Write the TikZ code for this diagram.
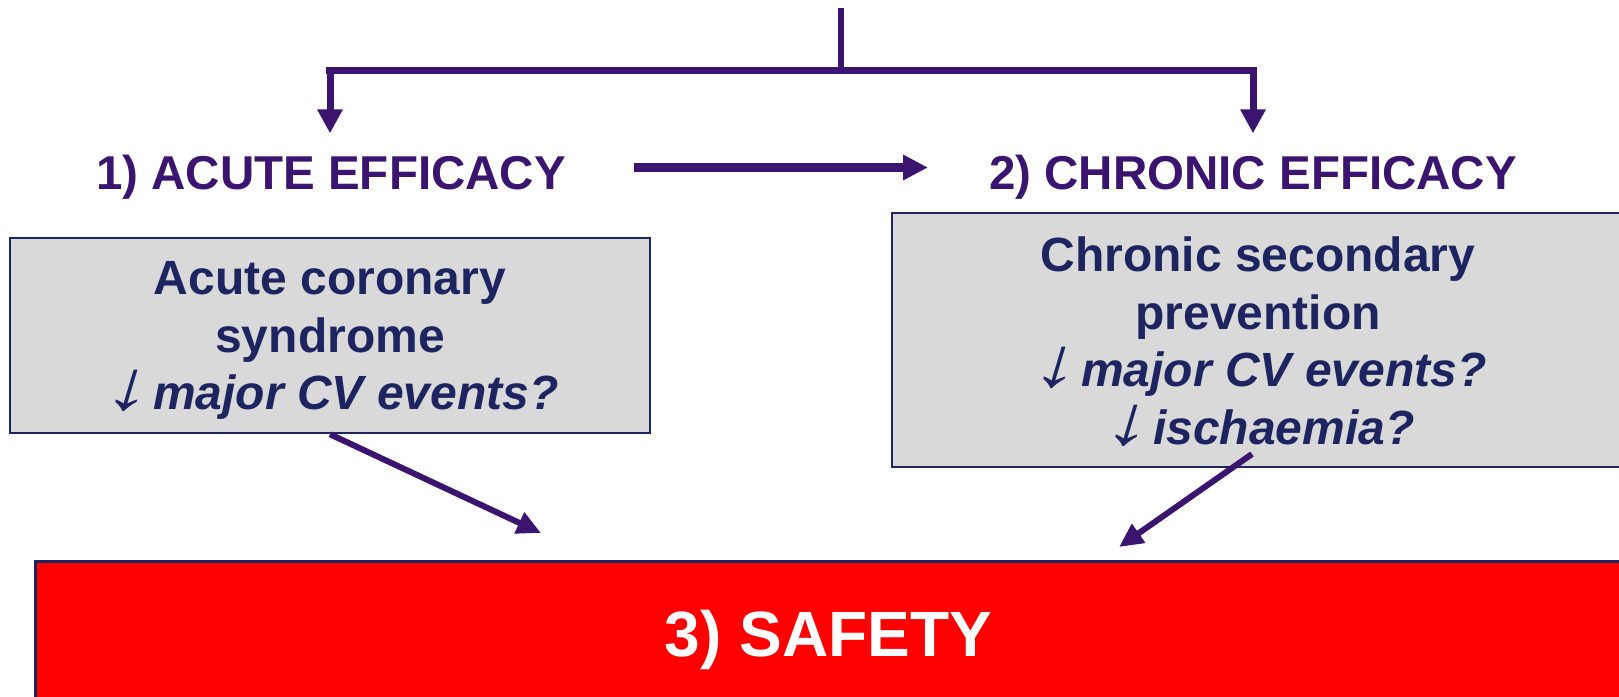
\documentclass[tikz,border=0pt]{standalone}
\usepackage{fontspec}
\setmainfont{Liberation Sans}
\newfontfamily\arrowfont[FakeSlant=0.3,FakeStretch=1.3]{Liberation Sans}
\usetikzlibrary{arrows.meta,calc}

\definecolor{flowpurple}{RGB}{58,20,110}
\definecolor{boxnavy}{RGB}{30,36,96}
\definecolor{boxgray}{RGB}{217,217,217}
\definecolor{alarmred}{RGB}{255,0,0}

% thin, slanted "decrease" arrow set in front of an italic phrase
\newcommand\slantdown{{\arrowfont\mdseries\upshape\fontsize{70}{57.5}\selectfont ↓}\hspace{6pt}}

\begin{document}
\begin{tikzpicture}[x=1pt,y=-1pt,
  heading/.style={inner sep=0pt,anchor=base,text=flowpurple,
    font=\fontsize{47.5}{57}\selectfont\bfseries},
  infobox/.style={draw=boxnavy,line width=2.5pt,fill=boxgray,inner sep=0pt},
  infotext/.style={inner sep=0pt,anchor=north,align=center,text=boxnavy,
    font=\fontsize{48}{57.5}\selectfont\bfseries},
  safetybox/.style={draw=boxnavy,line width=3pt,fill=alarmred,text=white,
    text depth=0pt,font=\fontsize{64}{70}\selectfont\bfseries},
  flow/.style={draw=flowpurple,line width=6pt},
  flowarrow/.style={flow,line width=7pt,-{Triangle[length=24pt,width=24pt]}}
]
\useasboundingbox (0,0) rectangle (1619,696);

% outcome boxes
\node[infobox,minimum width=640pt,minimum height=195pt] (acs) at (330,335.5) {};
\node[infotext] (acstext) at ($(acs.north)+(0,25)$)
  {Acute coronary\\syndrome\\\slantdown\textit{major CV events?}};
\node[infobox,minimum width=732pt,minimum height=254pt] (csp) at (1258,340) {};
\node[infotext] (csptext) at ($(csp.north)+(0,25)$)
  {Chronic secondary\\prevention\\\slantdown\textit{major CV events?}\\\slantdown\textit{ischaemia?}};
\node[safetybox,minimum width=1587pt,minimum height=144pt] (safety) at (828.5,633) {3) SAFETY};

% headings
\node[heading] (h1) at (331,189) {1) ACUTE EFFICACY};
\node[heading] (h2) at (1253,189) {2) CHRONIC EFFICACY};

% branching connector at the top
\coordinate (top) at (841,8);
\coordinate (jn) at (841,70.5);
\coordinate (barL) at (326,70.5);
\coordinate (barR) at (1257,70.5);
\coordinate (dropL) at (330,70.5);
\coordinate (dropR) at (1253,70.5);
\draw[flow] (top) -- (jn);
\draw[flow,line width=7pt] (barL) -- (barR);
\draw[flowarrow,shorten >=21pt] (dropL) -- (dropL |- h1.north);
\draw[flowarrow,shorten >=21pt] (dropR) -- (dropR |- h2.north);

% acute -> chronic
\coordinate (hs) at (634,167.5);
\coordinate (he) at (928,167.5);
\draw[flow,line width=8.5pt,-{Triangle[length=25pt,width=24pt]}] (hs) -- (he);

% both efficacy boxes lead to safety
\coordinate (lt) at (541,533);
\coordinate (rs) at (1252,454);
\coordinate (rt) at (1119,547);
\draw[flow,-{Triangle[length=24pt,width=22pt]}] (acs.south) -- (lt);
\draw[flow,-{Triangle[length=24pt,width=22pt]}] (rs) -- (rt);
\end{tikzpicture}
\end{document}
